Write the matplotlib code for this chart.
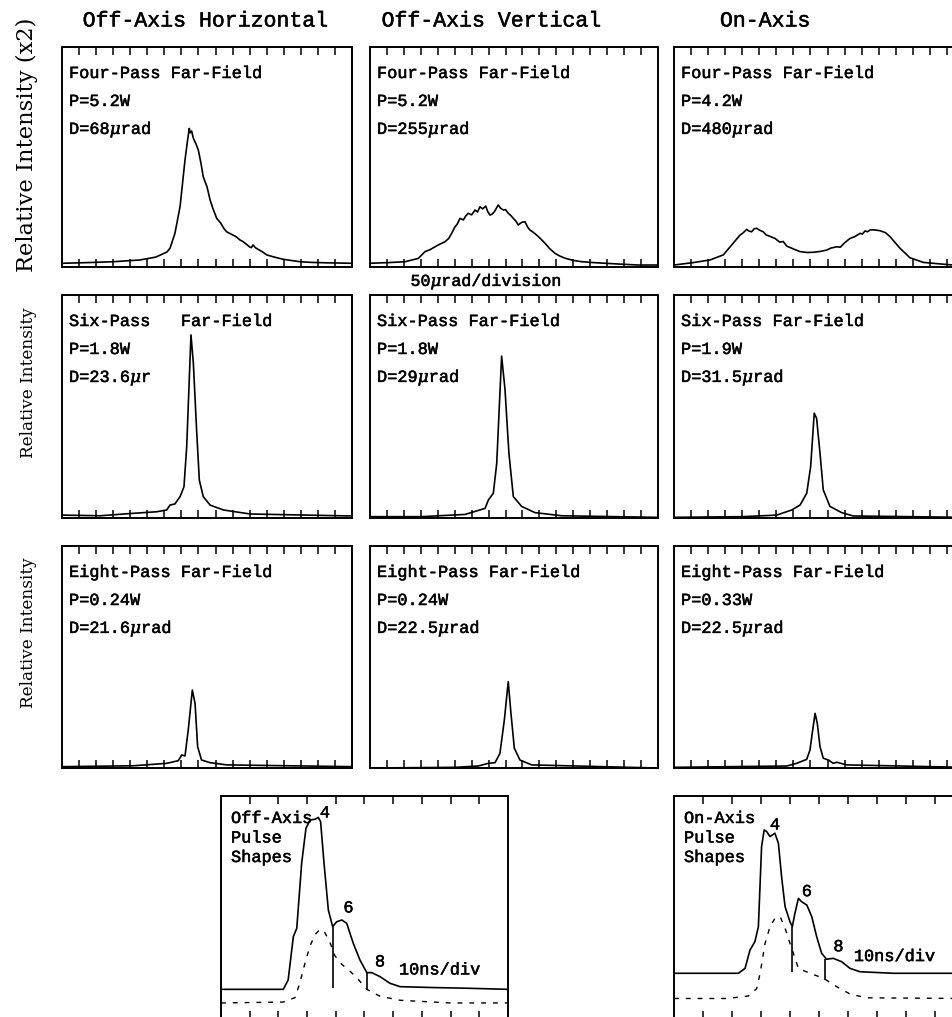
import numpy as np
import matplotlib.pyplot as plt
import matplotlib.patheffects as pe

plt.rcParams['font.family'] = ['Liberation Mono', 'DejaVu Sans']
plt.rcParams['mathtext.fontset'] = 'dejavuserif'

W, H = 953, 1017

# ---- far-field scans: x in divisions (50 urad/div), y in % of panel height ----
# four-pass
h4_x = [0.06, 1.5, 3.0, 4.57, 5.5, 6.15, 6.33, 6.62, 6.92, 7.21, 7.35, 7.46, 7.52, 7.6, 7.7, 7.85, 7.99,
        8.15, 8.28, 8.4, 8.5, 8.68, 8.85, 9.07, 9.3, 9.5, 9.65, 9.85, 10.0, 10.2, 10.43, 10.6, 10.8, 11.02,
        11.1, 11.2, 11.35, 11.5, 11.75, 12.0, 12.4, 12.97, 13.4, 13.95, 14.6, 15.5, 16.98]
h4_y = [1.7, 2.0, 2.4, 3.2, 4.5, 6.8, 8.5, 15.3, 27.4, 48.6, 57.0, 63.0, 61.0, 61.8, 58.5, 56.0, 53.2,
        47.0, 41.0, 38.5, 36.5, 30.5, 26.5, 22.1, 20.0, 17.4, 16.0, 15.2, 14.6, 13.8, 12.3, 11.6, 10.4, 9.0,
        8.8, 10.0, 8.7, 8.0, 6.9, 5.5, 4.6, 3.5, 3.0, 2.4, 2.1, 1.9, 1.7]
v4_x = [0.0, 1.08, 2.07, 2.85, 3.25, 3.55, 3.84, 4.1, 4.43, 4.65, 4.82, 5.02, 5.15, 5.31, 5.51, 5.65,
        5.80, 6.0, 6.2, 6.35, 6.49, 6.65, 6.83, 6.95, 7.08, 7.2, 7.34, 7.57, 7.7, 7.87, 8.0, 8.16, 8.3,
        8.46, 8.6, 8.75, 8.95, 9.15, 9.3, 9.44, 9.6, 9.84, 10.05, 10.33, 10.6, 10.92, 11.2, 11.51, 12.0,
        12.5, 13.2, 13.87, 14.8, 15.84, 16.92]
v4_y = [1.7, 2.0, 2.4, 3.9, 7.0, 7.9, 9.2, 10.3, 11.5, 13.0, 15.3, 18.3, 19.5, 22.1, 21.4, 23.2,
        24.4, 23.7, 25.9, 25.0, 27.4, 26.4, 27.7, 25.2, 23.6, 24.0, 25.1, 28.2, 26.8, 25.9, 26.1, 24.4, 23.5,
        22.1, 21.0, 19.1, 20.3, 20.6, 18.2, 16.8, 16.0, 14.5, 13.0, 10.8, 8.4, 6.2, 5.0, 4.0, 3.0,
        2.4, 2.0, 1.7, 1.3, 0.9, 0.9]
o4_x = [0.0, 1.13, 2.11, 2.89, 3.38, 3.87, 4.05, 4.26, 4.4, 4.55, 4.7, 4.85, 5.0, 5.23, 5.4, 5.6, 5.92,
        6.2, 6.4, 6.61, 7.0, 7.39, 7.8, 8.17, 8.6, 8.95, 9.2, 9.54, 9.75, 10.0, 10.32, 10.6, 10.91, 11.05,
        11.2, 11.35, 11.49, 11.7, 12.08, 12.4, 12.66, 13.25, 13.83, 14.61, 15.59, 16.37, 17.0]
o4_y = [0.9, 2.0, 3.2, 5.5, 10.0, 14.5, 15.5, 17.1, 16.3, 16.0, 17.4, 17.6, 16.8, 16.0, 14.6, 14.0, 13.0,
        11.3, 11.6, 9.5, 8.2, 7.0, 6.6, 6.7, 7.1, 7.7, 8.6, 9.2, 9.0, 11.0, 13.0, 13.8, 15.3, 15.0,
        16.4, 16.0, 16.8, 16.9, 16.5, 15.6, 13.8, 8.5, 4.2, 2.1, 1.4, 0.9, 0.9]
# six-pass
h6_x = [0.08, 2.23, 4.18, 5.55, 6.14, 6.33, 6.62, 6.92, 7.15, 7.31, 7.46, 7.56, 7.7, 7.89, 8.05, 8.28,
        8.68, 9.46, 11.02, 16.98]
h6_y = [1.3, 1.0, 2.1, 2.8, 3.6, 5.8, 6.3, 9.6, 14.0, 32.0, 61.9, 82.1, 69.4, 39.5, 17.0, 9.6,
        5.8, 3.6, 1.8, 0.9]
v6_x = [0.0, 3.05, 5.61, 6.79, 6.99, 7.28, 7.48, 7.77, 7.97, 8.2, 8.46, 8.95, 9.74, 11.32, 16.92]
v6_y = [0.6, 0.6, 1.6, 4.3, 8.1, 11.1, 24.5, 72.6, 57.5, 29.0, 9.6, 5.2, 2.4, 1.0, 0.3]
o6_x = [0.0, 4.06, 6.02, 6.9, 7.39, 7.78, 8.01, 8.22, 8.36, 8.56, 8.75, 9.14, 9.83, 10.51, 17.0]
o6_y = [0.3, 0.6, 1.3, 3.6, 5.8, 11.1, 23.0, 47.0, 44.7, 29.0, 12.6, 5.2, 2.4, 0.9, 0.3]
# eight-pass
h8_x = [0.08, 4.18, 6.14, 6.82, 7.02, 7.21, 7.4, 7.64, 7.8, 7.95, 8.18, 8.68, 9.65, 16.98]
h8_y = [0.6, 1.0, 2.1, 3.3, 5.9, 5.4, 17.1, 35.1, 29.1, 9.6, 3.6, 2.4, 1.4, 0.6]
v8_x = [0.0, 5.02, 6.39, 6.98, 7.38, 7.67, 7.93, 8.16, 8.32, 8.52, 8.85, 9.54, 16.92]
v8_y = [0.0, 0.3, 0.9, 2.1, 2.4, 6.6, 21.6, 38.9, 24.6, 8.9, 3.6, 1.4, 0.0]
o8_x = [0.0, 6.61, 7.19, 7.78, 7.97, 8.13, 8.27, 8.4, 8.56, 8.75, 9.05, 9.34, 9.54, 10.12, 17.0]
o8_y = [0.3, 0.9, 2.1, 3.9, 8.1, 17.1, 24.6, 20.1, 9.6, 4.4, 3.6, 2.1, 2.6, 1.4, 0.3]

# ---- pulse shapes: x in divisions (10 ns/div), y in % of panel height ----
offp_x = [0.0, 2.17, 2.34, 2.52, 2.64, 2.81, 2.96, 3.1, 3.28, 3.39, 3.47, 3.59, 3.74, 3.89, 4.03, 4.21,
          4.38, 4.61, 4.84, 5.08, 5.25, 5.54, 5.89, 6.24, 7.4, 8.56, 10.0]
offp_y = [13.3, 13.3, 17.5, 36.9, 40.7, 69.8, 85.5, 89.2, 89.6, 90.4, 88.5, 69.8, 48.9, 41.4, 43.6, 44.4,
          42.9, 33.9, 26.5, 20.8, 20.8, 19.0, 16.0, 14.5, 14.1, 13.8, 13.3]
offin_x = [0.0, 2.17, 2.58, 2.75, 2.93, 3.1, 3.28, 3.45, 3.62, 3.8, 3.97, 4.21, 4.49, 4.78, 5.08, 5.54,
           6.24, 7.98, 10.0]
offin_y = [7.2, 7.6, 9.6, 16.3, 25.3, 32.7, 37.9, 40.2, 38.7, 34.2, 28.3, 24.5, 21.5, 17.8, 13.3, 10.2,
           8.4, 7.2, 7.2]
off_cut_x = [3.89, 5.08]
off_cut_top = [41.4, 20.8]
off_cut_bot = [13.9, 13.0]

onp_x = [0.0, 2.22, 2.45, 2.62, 2.79, 2.91, 3.02, 3.11, 3.2, 3.31, 3.48, 3.6, 3.71, 3.83, 4.0, 4.08,
         4.17, 4.29, 4.4, 4.58, 4.75, 4.92, 5.09, 5.26, 5.49, 5.78, 6.07, 6.41, 7.56, 10.0]
onp_y = [20.5, 20.5, 22.7, 30.9, 34.7, 41.4, 77.3, 84.8, 84.0, 81.8, 83.3, 78.8, 63.8, 50.4, 43.6, 41.4,
         47.4, 54.1, 52.6, 51.1, 45.9, 36.9, 29.5, 26.8, 27.2, 25.7, 22.7, 21.2, 20.5, 20.5]
onin_x = [0.0, 1.82, 2.56, 2.85, 2.97, 3.14, 3.31, 3.48, 3.66, 3.83, 4.0, 4.29, 4.69, 5.15, 5.61, 6.07,
          6.64, 10.0]
onin_y = [9.2, 9.2, 10.3, 13.6, 20.5, 33.9, 41.4, 45.1, 45.9, 40.7, 33.9, 22.7, 20.5, 18.3, 14.5, 11.2,
          9.5, 9.2]
on_cut_x = [4.08, 5.21]
on_cut_top = [41.4, 26.8]
on_cut_bot = [21.2, 17.5]

panel_text = [
    [['Four-Pass Far-Field', 'P=5.2W', r'D=68$\mu$rad'],
     ['Four-Pass Far-Field', 'P=5.2W', r'D=255$\mu$rad'],
     ['Four-Pass Far-Field', 'P=4.2W', r'D=480$\mu$rad']],
    [['Six-Pass   Far-Field', 'P=1.8W', r'D=23.6$\mu$r'],
     ['Six-Pass Far-Field', 'P=1.8W', r'D=29$\mu$rad'],
     ['Six-Pass Far-Field', 'P=1.9W', r'D=31.5$\mu$rad']],
    [['Eight-Pass Far-Field', 'P=0.24W', r'D=21.6$\mu$rad'],
     ['Eight-Pass Far-Field', 'P=0.24W', r'D=22.5$\mu$rad'],
     ['Eight-Pass Far-Field', 'P=0.33W', r'D=22.5$\mu$rad']],
]
curves = [[(h4_x, h4_y), (v4_x, v4_y), (o4_x, o4_y)],
          [(h6_x, h6_y), (v6_x, v6_y), (o6_x, o6_y)],
          [(h8_x, h8_y), (v8_x, v8_y), (o8_x, o8_y)]]

col_edges = [(62, 352), (370, 658), (674, 964)]
row_edges = [(47, 267), (295, 518), (546, 768)]

# slight stroke to thicken the thin mono font a little
heavy = [pe.withStroke(linewidth=0.35, foreground='black')]

fig = plt.figure(figsize=(W / 100, H / 100), dpi=100)


def add_px_axes(left, top, right, bottom):
    return fig.add_axes([left / W, 1 - bottom / H, (right - left) / W, (bottom - top) / H])


def frame(ax, ndiv):
    ax.set_xlim(0, ndiv)
    ax.set_ylim(0, 100)
    ax.set_xticks(np.arange(1, ndiv))
    ax.set_yticks([])
    ax.tick_params(axis='x', direction='in', top=True, bottom=True, labelbottom=False,
                   length=5.5, width=1.1, color='black')
    for s in ax.spines.values():
        s.set_linewidth(1.4)


for r, (top, bot) in enumerate(row_edges):
    for c, (left, right) in enumerate(col_edges):
        ax = add_px_axes(left, top, right, bot)
        frame(ax, 17)
        xs, ys = curves[r][c]
        ax.plot(xs, ys, color='black', lw=1.2)
        h = bot - top
        for k, s in enumerate(panel_text[r][c]):
            ax.text(7 / (right - left), 1 - (31 + 28 * k) / h, s, transform=ax.transAxes,
                    fontsize=12.2, va='baseline', ha='left', path_effects=heavy)

# pulse shape panels
pulse_panels = [
    (221, 508, offp_x, offp_y, offin_x, offin_y, off_cut_x, off_cut_top, off_cut_bot,
     ['Off-Axis', 'Pulse', 'Shapes'], [(3.62, 92.4), (4.44, 49.8), (5.54, 25.6)], (6.2, 22.0)),
    (674, 964, onp_x, onp_y, onin_x, onin_y, on_cut_x, on_cut_top, on_cut_bot,
     ['On-Axis', 'Pulse', 'Shapes'], [(3.48, 87.0), (4.58, 57.1), (5.67, 32.4)], (6.2, 28.0)),
]
for (left, right, px_, py_, dx_, dy_, cx, ct, cb, lab, nums, divpos) in pulse_panels:
    ax = add_px_axes(left, 796, right, 1019)
    frame(ax, 10)
    ax.plot(px_, py_, color='black', lw=1.2)
    ax.plot(dx_, dy_, color='black', lw=1.0, linestyle=(0, (3.5, 5)))
    ax.vlines(cx, cb, ct, color='black', lw=1.2)
    for k, s in enumerate(lab):
        ax.text(10 / (right - left), 1 - (27 + 19.5 * k) / 223, s, transform=ax.transAxes,
                fontsize=12.2, va='baseline', ha='left', path_effects=heavy)
    for n, (x, y) in zip(['4', '6', '8'], nums):
        ax.text(x, y, n, fontsize=12.2, ha='center', va='center', path_effects=heavy)
    ax.text(divpos[0], divpos[1], '10ns/div', fontsize=12.2, ha='left', va='center',
            path_effects=heavy)

# column titles
for s, x in [('Off-Axis Horizontal', 205), ('Off-Axis Vertical', 491), ('On-Axis', 765)]:
    fig.text(x / W, 1 - 21 / H, s, fontsize=15.5, ha='center', va='center', path_effects=heavy)

# y labels
fig.text(27 / W, 1 - 145 / H, 'Relative Intensity (x2)', rotation=90, fontsize=16.3,
         family='DejaVu Serif', ha='center', va='center')
for yc in [383, 633]:
    fig.text(29 / W, 1 - yc / H, 'Relative Intensity', rotation=90, fontsize=12.2,
             family='DejaVu Serif', ha='center', va='center')

fig.text(486 / W, 1 - 282 / H, r'50$\mu$rad/division', fontsize=12, ha='center', va='center',
         path_effects=heavy)

fig.savefig('out.png', dpi=100)
